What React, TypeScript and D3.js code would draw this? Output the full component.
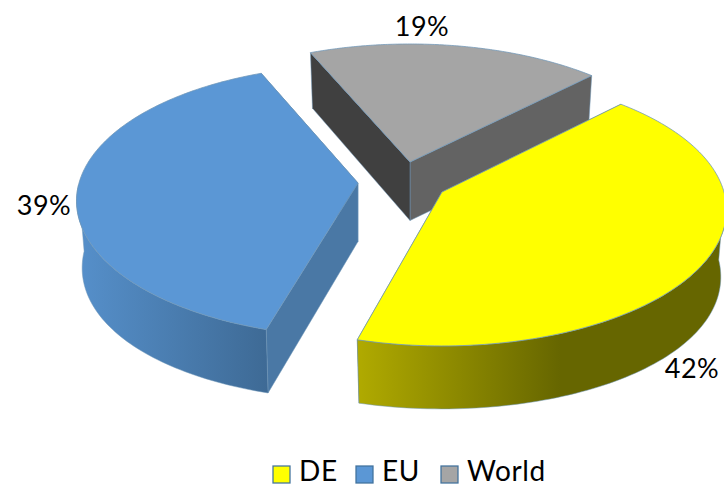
import React, { useEffect, useRef } from 'react';
import * as d3 from 'd3';

const categories = ['DE', 'EU', 'World'];
const shares = [42, 39, 19];

const width = 724;
const height = 487;
const FONT = 'Lato, "Open Sans", sans-serif';

// per slice look, same order as categories
const topColors = ['#ffff00', '#5b97d5', '#a5a5a5'];
const startFaceColors = ['#666600', '#4a78a5', '#404040'];
const endFaceColors = ['#666600', '#4a78a5', '#636363'];
const apexes = [[442, 192], [358, 183], [410, 162]];
const radiusX = [282, 279, 281];
const rotation = [0, 1.5, 1]; // degrees, each exploded slice sits a bit differently in perspective
const labelPos = [[692, 369], [44, 206], [422, 27]];
const legendX = [273, 356, 441];
const wallStops = [
  { x1: 358, x2: 560, from: '#b0aa00', to: '#666600' },
  { x1: 76, x2: 268, from: '#5690cb', to: '#3e6a95' },
  { x1: 311, x2: 591, from: '#555555', to: '#555555' },
];

// pie plane seen in perspective
const RY = 133.6;
const PERSP = 0.132;
const BOTTOM_SCALE = 0.98;
const START_ANGLE = (44 * Math.PI) / 180;

function project(apex: number[], rx: number, a: number) {
  const u = Math.sin(a);
  const v = Math.cos(a);
  const s = 1 / (1 + PERSP * v);
  return [apex[0] + rx * u * s, apex[1] - RY * v * s, 58.5 - 4.5 * v + 8 * u * u, v];
}

export default function App() {
  const svgRef = useRef<SVGSVGElement>(null);

  useEffect(() => {
    if (!svgRef.current) return;
    const svg = d3.select(svgRef.current);
    svg.selectAll('*').remove();

    const arcs = d3.pie<number>()
      .sort(null)
      .startAngle(START_ANGLE)
      .endAngle(START_ANGLE + Math.PI * 2)(shares);

    const defs = svg.append('defs');
    wallStops.forEach((w, i) => {
      const g = defs.append('linearGradient')
        .attr('id', `wall${i}`)
        .attr('gradientUnits', 'userSpaceOnUse')
        .attr('x1', w.x1).attr('x2', w.x2).attr('y1', 0).attr('y2', 0);
      g.append('stop').attr('offset', '0%').attr('stop-color', w.from);
      g.append('stop').attr('offset', '100%').attr('stop-color', w.to);
    });

    const line = d3.line();
    const edge = '#6f97b8';

    // back slice first, yellow has to sit on top of the grey one
    [2, 1, 0].forEach(i => {
      const d = arcs[i];
      const apex = apexes[i];
      const rot = (rotation[i] * Math.PI) / 180;
      const angles = d3.range(0, 121).map(t => rot + d.startAngle + ((d.endAngle - d.startAngle) * t) / 120);
      const rim = angles.map(a => project(apex, radiusX[i], a));
      const toTop = (p: number[]) => [p[0], p[1]] as [number, number];
      const toBottom = (p: number[]) => [apex[0] + (p[0] - apex[0]) * BOTTOM_SCALE, p[1] + p[2]] as [number, number];
      const rimTop = rim.map(toTop);
      const a0 = apex as [number, number];
      const a1: [number, number] = [apex[0], apex[1] + 58.5];
      const g = svg.append('g');

      g.append('path')
        .attr('d', line([a0, rimTop[120], toBottom(rim[120]), a1]) + 'Z')
        .attr('fill', endFaceColors[i])
        .attr('stroke', edge).attr('stroke-width', 0.5);

      g.append('path')
        .attr('d', line([a0, rimTop[0], toBottom(rim[0]), a1]) + 'Z')
        .attr('fill', startFaceColors[i])
        .attr('stroke', edge).attr('stroke-width', 0.5);

      // only the front part of the rim has a visible wall
      const front = rim.filter(p => p[3] <= 0);
      if (front.length) {
        g.append('path')
          .attr('d', line([...front.map(toTop), ...front.map(toBottom).reverse()]) + 'Z')
          .attr('fill', `url(#wall${i})`)
          .attr('stroke', edge).attr('stroke-width', 0.5);
      }

      g.append('path')
        .attr('d', line([a0, ...rimTop]) + 'Z')
        .attr('fill', topColors[i])
        .attr('stroke', edge).attr('stroke-width', 0.75);
    });

    // percent labels
    svg.selectAll('.pct')
      .data(shares)
      .enter()
      .append('text')
      .attr('class', 'pct')
      .attr('x', (_, i) => labelPos[i][0])
      .attr('y', (_, i) => labelPos[i][1])
      .attr('dy', '0.35em')
      .attr('text-anchor', 'middle')
      .attr('font-family', FONT)
      .attr('font-size', 27)
      .attr('letter-spacing', 0.5)
      .attr('fill', '#000')
      .text(d => `${d}%`);

    // legend
    const legend = svg.selectAll('.leg')
      .data(categories)
      .enter()
      .append('g')
      .attr('class', 'leg')
      .attr('transform', (_, i) => `translate(${legendX[i]},466)`);

    legend.append('rect')
      .attr('width', 17).attr('height', 17)
      .attr('fill', (_, i) => topColors[i])
      .attr('stroke', '#41719c').attr('stroke-width', 1.25);

    legend.append('text')
      .attr('x', 26).attr('y', 15)
      .attr('font-family', FONT)
      .attr('font-size', 28)
      .attr('letter-spacing', 0.6)
      .attr('fill', '#000')
      .text(d => d);
  }, []);

  return (
    <svg ref={svgRef} width={width} height={height} style={{ position: 'absolute', left: 0, top: 0, background: '#fff' }} />
  );
}
